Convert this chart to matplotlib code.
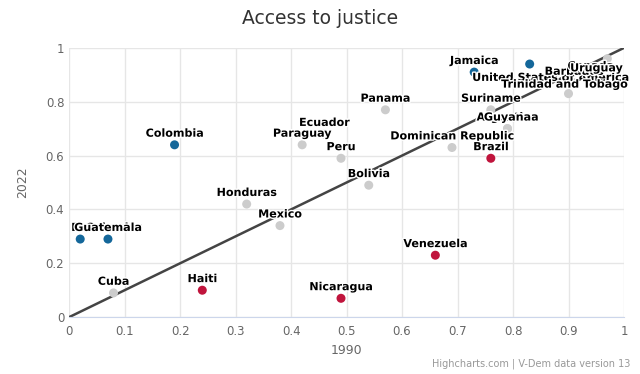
import matplotlib.pyplot as plt
import matplotlib.patheffects as pe

# country, value 1990, value 2022, group
countries = ["El Salvador", "Guatemala", "Colombia", "Jamaica", "United States of America",
             "Cuba", "Honduras", "Mexico", "Ecuador", "Paraguay", "Peru", "Panama", "Bolivia",
             "Dominican Republic", "Suriname", "Argentina", "Guyana", "Trinidad and Tobago",
             "Barbados", "Canada", "Uruguay",
             "Haiti", "Nicaragua", "Venezuela", "Brazil"]
x1990 = [0.02, 0.07, 0.19, 0.73, 0.83,
         0.08, 0.32, 0.38, 0.46, 0.42, 0.49, 0.57, 0.54,
         0.69, 0.76, 0.79, 0.79, 0.90,
         0.91, 0.94, 0.97,
         0.24, 0.49, 0.66, 0.76]
y2022 = [0.29, 0.29, 0.64, 0.91, 0.94,
         0.09, 0.42, 0.34, 0.68, 0.64, 0.59, 0.77, 0.49,
         0.63, 0.77, 0.70, 0.70, 0.83,
         0.87, 0.89, 0.96,
         0.10, 0.07, 0.23, 0.59]
group = ["up"] * 5 + ["same"] * 16 + ["down"] * 4

colors = {"up": "#14679a", "same": "#cccccc", "down": "#c0143c"}

# label placement in points (dx, dy, ha); default sits centred above the point
label_pos = {"United States of America": (15, -10, "center"),
             "Uruguay": (11, -7, "right"),
             "Trinidad and Tobago": (-3, 6.5, "center"),
             "El Salvador": (-6.5, 8, "left")}

fig = plt.figure(figsize=(6.4, 3.74), dpi=100)
ax = fig.add_axes([0.108, 0.152, 0.867, 0.72])

ax.plot([0, 1], [0, 1], color="#444444", lw=1.8, zorder=2)

for c, x, y, g in zip(countries, x1990, y2022, group):
    ax.scatter(x, y, s=42, color=colors[g], zorder=3, edgecolors="none")
for c, x, y in zip(countries, x1990, y2022):
    dx, dy, ha = label_pos.get(c, (0, 8, "center"))
    ax.annotate(c, (x, y), xytext=(dx, dy), textcoords="offset points",
                ha=ha, va="center", fontsize=8, fontweight="bold",
                color="black", zorder=4,
                path_effects=[pe.withStroke(linewidth=2, foreground="white")])

ax.set_xlim(0, 1)
ax.set_ylim(0, 1)
ax.set_xticks([i / 10 for i in range(11)])
ax.set_xticklabels(["0", "0.1", "0.2", "0.3", "0.4", "0.5", "0.6", "0.7", "0.8", "0.9", "1"])
ax.set_yticks([0, 0.2, 0.4, 0.6, 0.8, 1])
ax.set_yticklabels(["0", "0.2", "0.4", "0.6", "0.8", "1"])
ax.grid(True, color="#e6e6e6", lw=1)
ax.set_axisbelow(True)
for s in ["top", "right", "left"]:
    ax.spines[s].set_visible(False)
ax.spines["bottom"].set_color("#ccd6eb")
ax.tick_params(axis="both", colors="#666666", labelsize=8.5, length=0)
ax.tick_params(axis="x", pad=6)
ax.set_xlabel("1990", color="#666666", fontsize=9, labelpad=4)
ax.set_ylabel("2022", color="#666666", fontsize=9, labelpad=12)

fig.suptitle("Access to justice", y=0.975, fontsize=13.5, color="#333333")
fig.text(0.985, 0.02, "Highcharts.com | V-Dem data version 13", ha="right",
         fontsize=7, color="#999999")

fig.savefig("out.png", dpi=100)
